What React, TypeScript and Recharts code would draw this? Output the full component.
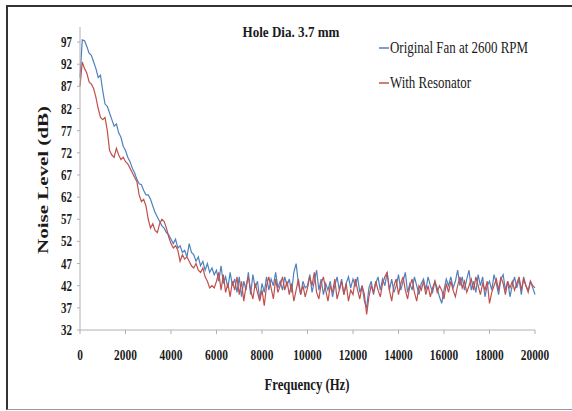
import React from "react";
import { LineChart, Line, XAxis, YAxis } from "recharts";

const TITLE = "Hole Dia. 3.7 mm";
const SERIES_ORIGINAL = "Original Fan at 2600 RPM";
const SERIES_RESONATOR = "With Resonator";
const X_LABEL = "Frequency (Hz)";
const Y_LABEL = "Noise Level (dB)";

const X_TICKS = [0, 2000, 4000, 6000, 8000, 10000, 12000, 14000, 16000, 18000, 20000];
const Y_TICKS = [32, 37, 42, 47, 52, 57, 62, 67, 72, 77, 82, 87, 92, 97];

// Noise level every 100 Hz, 0..20000 Hz
const ORIGINAL = [
  89, 97.5, 97.3, 96, 94.5, 94, 92.5, 91, 89, 89.5,
  86, 83, 82.5, 81, 79.5, 78, 78.5, 76.5, 75.5, 73.5,
  72.5, 71, 70, 68.5, 67.5, 66, 65, 64.8, 63.5, 62.5,
  62.5, 61.5, 60, 58.5, 57.5, 56.5, 55.5, 55, 54, 53.5,
  52.5, 51.5, 52.5, 50.5, 51, 49.5, 50, 48.5, 51.5, 49.5,
  49, 47.5, 48.5, 46.5, 47.5, 45.5, 47, 45, 46, 44.5,
  45.5, 43, 46.5, 42.5, 44, 41.5, 45, 42, 43.5, 40.5,
  44, 39.5, 43, 41, 45, 40, 44.5, 41.5, 43, 39,
  42.5, 40.5, 44, 41, 43.5, 42, 45, 41.5, 43, 41,
  44, 42, 43.5, 40.5, 45, 47, 42.5, 40, 43, 41.5,
  42, 44.5, 40.5, 43, 45.5, 41, 43.5, 40, 42.5, 41,
  43, 39.5, 42, 44, 41, 43.5, 40, 42.5, 44, 41.5,
  43.5, 42, 44, 40.5, 42, 38.5, 37, 41.5, 43, 40,
  42.5, 44, 41, 43.5, 42, 45, 41, 43.5, 40.5, 42,
  44.5, 41, 43, 45, 40.5, 42.5, 41, 44, 42, 40,
  42.5, 43.5, 41, 44, 42, 40.5, 43, 41.5, 39.5, 38,
  41, 43.5, 42, 44, 41.5, 43, 45.5, 42, 44, 41,
  43.5, 45.5, 41, 43, 40.5, 44.5, 42, 44, 39.5, 42,
  43, 41, 44.5, 42.5, 40, 43.5, 44.5, 41, 43, 39.5,
  42, 44, 41.5, 43.5, 40, 44, 42, 41, 43, 41.5,
  40,
];

const RESONATOR = [
  87, 92.5, 91, 90, 88, 87.5, 86.5, 84.5, 82, 80,
  79.5, 80, 77, 72.5, 71.5, 71, 73, 71.5, 70.5, 71,
  70, 69.5, 68.5, 67.5, 66.5, 65.5, 62.5, 61, 61.5, 60,
  57, 55, 56, 54.5, 54, 56, 57, 56.5, 55, 53,
  51.5, 50.5, 51, 50, 47.5, 49, 48, 48.5, 47.5, 46.5,
  46, 47, 45.5, 45, 46, 44, 43, 41.5, 42, 41.5,
  43, 45, 41, 44.5, 40.5, 42.5, 39.5, 43, 41, 44,
  40, 43, 38.5, 42, 44, 41, 39, 42.5, 40.5, 38.5,
  41, 37.5, 42, 44, 41.5, 39, 43.5, 40.5, 42, 44,
  41, 43, 40, 42.5, 38.5, 41, 43.5, 40, 42, 39.5,
  41.5, 44, 42, 45, 40.5, 39, 42.5, 44, 41, 38.5,
  42, 40.5, 43.5, 39, 41, 43, 40, 42.5, 38.5, 41,
  40, 43.5, 41, 39, 42, 40, 35.5, 39.5, 42, 40.5,
  43, 41, 39.5, 42.5, 44, 45, 41, 38.5, 42, 43.5,
  40, 42.5, 44, 41, 39, 42, 43.5, 40.5, 38.5, 42,
  41, 43, 40, 42, 39.5, 41.5, 43, 40.5, 42, 41,
  39, 42.5, 40.5, 43, 41, 39.5, 42, 44, 41.5, 43,
  40.5, 42, 43.5, 41, 44, 42, 40, 42.5, 41, 43,
  38, 40.5, 42, 43.5, 41, 44, 42.5, 40, 43, 41.5,
  43, 41, 42.5, 44, 41, 43.5, 42, 40.5, 43, 42,
  41.5,
];

const FREQUENCIES = ORIGINAL.map((_, i) => i * 100);

const BLUE = "#4f81bd";
const RED = "#c0504d";
const AXIS = "#b0b0b0";
const SERIF = "'Liberation Serif', 'DejaVu Serif', serif";

const data = FREQUENCIES.map((f, i) => ({ f, orig: ORIGINAL[i], res: RESONATOR[i] }));

const YTick = (props: any) => {
  const { x, y, payload } = props;
  return (
    <text x={x} y={y} dy="0.36em" textAnchor="end" fontFamily={SERIF} fontWeight="bold" fontSize={14}
      textLength={11} lengthAdjust="spacingAndGlyphs" fill="#1a1a1a">
      {payload.value}
    </text>
  );
};

const XTick = (props: any) => {
  const { x, y, payload } = props;
  const s = String(payload.value);
  return (
    <text x={x} y={y} dy="0.71em" textAnchor="middle" fontFamily={SERIF} fontWeight="bold" fontSize={15}
      textLength={s.length * 5.7} lengthAdjust="spacingAndGlyphs" fill="#1a1a1a">
      {s}
    </text>
  );
};

export default function App() {
  return (
    <div style={{ position: "absolute", left: 0, top: 0, width: 572, height: 411, overflow: "hidden", background: "#fff" }}>
      <div style={{ position: "absolute", left: 6, top: 5, width: 600, height: 405, boxSizing: "border-box",
        borderLeft: "2px solid #333", borderTop: "2px solid #333", borderBottom: "1px solid #999" }} />
      <div style={{ position: "absolute", left: 0, top: 0 }}>
        <LineChart width={572} height={411} data={data} margin={{ top: 27, right: 37, bottom: 21, left: 20 }}>
          <XAxis dataKey="f" type="number" domain={[0, 20000]} ticks={X_TICKS} interval={0}
            height={60} tickSize={4} tickMargin={15} stroke={AXIS} tick={<XTick />} />
          <YAxis type="number" domain={[32, 100.4]} ticks={Y_TICKS} interval={0} allowDataOverflow
            width={60} tickSize={3} tickMargin={5} stroke={AXIS} tick={<YTick />} />
          <Line dataKey="orig" stroke={BLUE} strokeWidth={1.2} dot={false} isAnimationActive={false} />
          <Line dataKey="res" stroke={RED} strokeWidth={1.2} dot={false} isAnimationActive={false} />
        </LineChart>
      </div>
      <svg width={572} height={411} style={{ position: "absolute", left: 0, top: 0, pointerEvents: "none" }}>
        <text x={291} y={37} textAnchor="middle" fontFamily={SERIF} fontWeight="bold" fontSize={15}
          textLength={97} lengthAdjust="spacingAndGlyphs" fill="#1a1a1a">{TITLE}</text>
        <line x1={379} x2={389} y1={48} y2={48} stroke={BLUE} strokeWidth={1.5} />
        <text x={390} y={53} fontFamily={SERIF} fontSize={16} textLength={138} lengthAdjust="spacingAndGlyphs" fill="#1a1a1a">{SERIES_ORIGINAL}</text>
        <line x1={379} x2={389} y1={83} y2={83} stroke={RED} strokeWidth={1.5} />
        <text x={390} y={88} fontFamily={SERIF} fontSize={16} textLength={81} lengthAdjust="spacingAndGlyphs" fill="#1a1a1a">{SERIES_RESONATOR}</text>
        <text x={307} y={390} textAnchor="middle" fontFamily={SERIF} fontWeight="bold" fontSize={16}
          textLength={85} lengthAdjust="spacingAndGlyphs" fill="#1a1a1a">{X_LABEL}</text>
        <text x={48} y={180} transform="rotate(-90 48 180)" textAnchor="middle" fontFamily={SERIF} fontWeight="bold" fontSize={15}
          textLength={148} lengthAdjust="spacingAndGlyphs" fill="#1a1a1a">{Y_LABEL}</text>
      </svg>
    </div>
  );
}
